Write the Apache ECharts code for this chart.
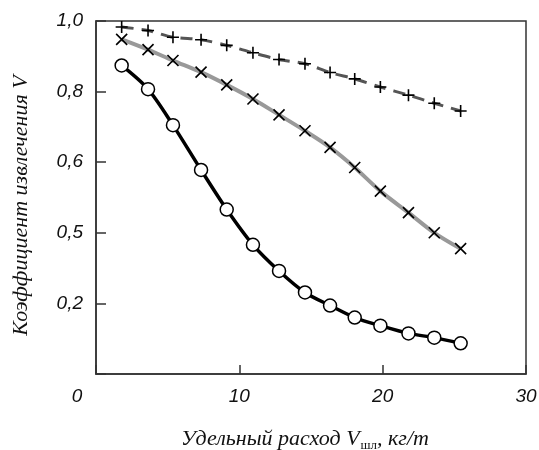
<!DOCTYPE html>
<html>
<head>
<meta charset="utf-8">
<script src="https://cdn.jsdelivr.net/npm/echarts@6/dist/echarts.min.js"></script>
<style>html,body{margin:0;padding:0;background:#fff}#c{width:539px;height:450px}</style>
</head>
<body>
<div id="c"></div>
<script>
// Data
const xValues = [1.79, 3.63, 5.37, 7.33, 9.12, 10.95, 12.77, 14.58, 16.33, 18.05, 19.84, 21.8, 23.6, 25.44];
const circleSeries = [0.874, 0.807, 0.705, 0.578, 0.466, 0.366, 0.292, 0.231, 0.194, 0.160, 0.137, 0.115, 0.103, 0.087];
const crossSeries  = [0.948, 0.919, 0.888, 0.855, 0.819, 0.779, 0.734, 0.689, 0.642, 0.585, 0.518, 0.457, 0.400, 0.355];
const plusSeries   = [0.983, 0.973, 0.954, 0.947, 0.931, 0.910, 0.891, 0.879, 0.854, 0.836, 0.813, 0.790, 0.767, 0.745];
const yTickValues = [0, 0.2, 0.4, 0.6, 0.8, 1.0];
const yTickLabels = ['', '0,2', '0,5', '0,6', '0,8', '1,0'];
const xTickValues = [0, 10, 20, 30];
const xTickLabels = ['0', '10', '20', '30'];
const xAxisTitle = 'Удельный расход V';
const xAxisTitleSub = 'шл';
const xAxisTitleTail = ', кг/т';
const yAxisTitle = 'Коэффициент извлечения V';

function pairs(ys){ return xValues.map((x,i)=>[x, ys[i]]); }

const chart = echarts.init(document.getElementById('c'), null, {renderer:'canvas'});
const labelFont = {fontFamily:'Liberation Sans', fontStyle:'italic', fontSize:19, color:'#111'};
chart.setOption({
  animation:false,
  grid:{left:96, right:13, top:21, bottom:76, outerBoundsMode:'none', containLabel:false,
        show:true, borderColor:'#333', borderWidth:1.5, backgroundColor:'transparent'},
  xAxis:{
    type:'value', min:0, max:30, interval:10,
    axisLine:{show:true, lineStyle:{color:'#333', width:1.5}},
    axisTick:{show:true, inside:true, length:9, lineStyle:{color:'#333', width:1.5}},
    splitLine:{show:false},
    axisLabel:Object.assign({}, labelFont, {margin:13,
      formatter:function(v){ const i = xTickValues.indexOf(v); const t = i>=0 ? xTickLabels[i] : ''; return v===0 ? '{z|'+t+'}' : t; },
      rich:{z:Object.assign({}, labelFont, {padding:[0,38,0,0]})}
    }),
    name: xAxisTitle + '{s|' + xAxisTitleSub + '}' + xAxisTitleTail,
    nameLocation:'middle', nameGap:52,
    nameTextStyle:{fontFamily:'Liberation Serif', fontStyle:'italic', fontSize:22, color:'#111', padding:[0,12,0,0],
      rich:{s:{fontFamily:'Liberation Serif', fontStyle:'normal', fontSize:13, color:'#111', verticalAlign:'bottom', padding:[13,0,0,1]}}}
  },
  yAxis:{
    type:'value', min:0, max:1, interval:0.2,
    axisLine:{show:true, lineStyle:{color:'#333', width:1.5}},
    axisTick:{show:true, inside:true, length:10, lineStyle:{color:'#333', width:1.5}},
    splitLine:{show:false},
    axisLabel:Object.assign({}, labelFont, {margin:13,
      formatter:function(v){ let best=-1; yTickValues.forEach((t,i)=>{ if(Math.abs(t-v)<1e-6) best=i; }); return best>=0 ? yTickLabels[best] : ''; }
    }),
    name: yAxisTitle, nameLocation:'middle', nameGap:64,
    nameTextStyle:{fontFamily:'Liberation Serif', fontStyle:'italic', fontSize:22, color:'#111', padding:[0,16,0,0]}
  },
  series:[
    {type:'line', data:pairs(plusSeries), smooth:0.3, z:2,
     lineStyle:{color:'#555', width:3, type:[12,8]},
     symbol:'path://M5,0L5,10M0,5L10,5', symbolSize:12, showSymbol:true,
     itemStyle:{color:'transparent', borderColor:'#000', borderWidth:1.6}},
    {type:'line', data:pairs(crossSeries), smooth:0.3, z:3,
     lineStyle:{color:'#999', width:4},
     symbol:'path://M0,0L10,10M10,0L0,10', symbolSize:11, showSymbol:true,
     itemStyle:{color:'transparent', borderColor:'#000', borderWidth:1.6}},
    {type:'line', data:pairs(circleSeries), smooth:0.3, z:4,
     lineStyle:{color:'#000', width:3.5},
     symbol:'circle', symbolSize:13, showSymbol:true,
     itemStyle:{color:'#fff', borderColor:'#000', borderWidth:1.5}}
  ]
});
</script>
</body>
</html>
